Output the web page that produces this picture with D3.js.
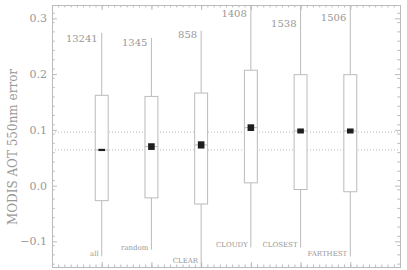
<!DOCTYPE html>
<html>
<head>
<meta charset="utf-8">
<script src="https://cdn.jsdelivr.net/npm/d3@7"></script>
<style>
  body { margin: 0; background: #fff; }
  text { font-family: "DejaVu Serif", serif; fill: #989898; }
</style>
</head>
<body>
<div id="chart"></div>
<script>
// values
const categories = ["all", "random", "CLEAR", "CLOUDY", "CLOSEST", "FARTHEST"];
const counts = [13241, 1345, 858, 1408, 1538, 1506];
const whiskerLow = [-0.127, -0.115, -0.16, -0.111, -0.111, -0.127];
const q1 = [-0.027, -0.022, -0.033, 0.005, -0.007, -0.011];
const median = [0.064, 0.070, 0.073, 0.104, 0.098, 0.098];
const q3 = [0.162, 0.160, 0.166, 0.207, 0.199, 0.199];
const whiskerHigh = [0.274, 0.265, 0.278, 0.34, 0.34, 0.34];
// half height of the black median marker (confidence of the median)
const medianCI = [0.002, 0.006, 0.0065, 0.006, 0.0045, 0.0045];
const countLabelY = [0.258, 0.250, 0.264, 0.303, 0.285, 0.296];
const refLines = [0.064, 0.096];
const yTicks = [-0.1, 0.0, 0.1, 0.2, 0.3];

const width = 407, height = 270;
const margin = {top: 5, right: 7, bottom: 3, left: 52};

const svg = d3.select("#chart").append("svg")
    .attr("width", width)
    .attr("height", height);

const x = d3.scaleLinear()
    .domain([0, 7])
    .range([margin.left, width - margin.right]);

const y = d3.scaleLinear()
    .domain([-0.146, 0.324])
    .range([height - margin.bottom, margin.top]);

const grey = "#bbbbbb";
const boxW = x(0.26) - x(0);

svg.append("clipPath").attr("id", "plotclip")
  .append("rect")
    .attr("x", x(0)).attr("y", y(0.324))
    .attr("width", x(7) - x(0)).attr("height", y(-0.146) - y(0.324));

const plot = svg.append("g").attr("clip-path", "url(#plotclip)");

// dotted reference lines
plot.selectAll(".ref")
  .data(refLines)
  .join("line")
    .attr("x1", x(0)).attr("x2", x(7))
    .attr("y1", d => y(d)).attr("y2", d => y(d))
    .attr("stroke", grey)
    .attr("stroke-width", 1)
    .attr("stroke-dasharray", "1,2");

const boxes = plot.selectAll(".box")
  .data(categories)
  .join("g")
    .attr("class", "box");

// whiskers
boxes.append("line")
    .attr("x1", (d, i) => x(i + 1)).attr("x2", (d, i) => x(i + 1))
    .attr("y1", (d, i) => y(whiskerHigh[i]))
    .attr("y2", (d, i) => y(q3[i]))
    .attr("stroke", grey);
boxes.append("line")
    .attr("x1", (d, i) => x(i + 1)).attr("x2", (d, i) => x(i + 1))
    .attr("y1", (d, i) => y(q1[i]))
    .attr("y2", (d, i) => y(whiskerLow[i]))
    .attr("stroke", grey);

boxes.append("rect")
    .attr("x", (d, i) => x(i + 1) - boxW / 2)
    .attr("y", (d, i) => y(q3[i]))
    .attr("width", boxW)
    .attr("height", (d, i) => y(q1[i]) - y(q3[i]))
    .attr("fill", "#fff")
    .attr("stroke", grey);

// median line across the box
boxes.append("line")
    .attr("x1", (d, i) => x(i + 1) - boxW / 2)
    .attr("x2", (d, i) => x(i + 1) + boxW / 2)
    .attr("y1", (d, i) => y(median[i]))
    .attr("y2", (d, i) => y(median[i]))
    .attr("stroke", grey);

// black median marker
boxes.append("rect")
    .attr("x", (d, i) => x(i + 1) - 3.3)
    .attr("y", (d, i) => y(median[i] + medianCI[i]))
    .attr("width", 6.6)
    .attr("height", (d, i) => y(median[i] - medianCI[i]) - y(median[i] + medianCI[i]))
    .attr("fill", "#1e1e1e");

// counts near the top of each whisker
svg.selectAll(".count")
  .data(counts)
  .join("text")
    .attr("class", "count")
    .attr("x", (d, i) => x(i + 1) - 4)
    .attr("y", (d, i) => y(countLabelY[i]))
    .attr("text-anchor", "end")
    .attr("font-size", "10px")
    .text(d => d);

// category names at the bottom of each whisker
const lowest = y.domain()[0] + 0.007;
svg.selectAll(".cat")
  .data(categories)
  .join("text")
    .attr("class", "cat")
    .attr("x", (d, i) => x(i + 1) - 3)
    .attr("y", (d, i) => y(Math.max(whiskerLow[i], lowest)))
    .attr("text-anchor", "end")
    .attr("font-size", "7px")
    .text(d => d);

// frame with inward ticks on all four sides
const minorY = d3.range(-0.14, 0.325, 0.1 / 6).filter(v => v > -0.146);
const minorX = d3.range(0, 7.001, 1 / 8);
const majorX = d3.range(0, 8);

function styleAxis(g) {
  g.select(".domain").attr("stroke", grey);
  g.selectAll(".tick line").attr("stroke", grey);
  g.selectAll(".tick text")
    .attr("font-family", "DejaVu Serif")
    .attr("fill", "#989898");
}

svg.append("g")
    .attr("transform", `translate(${x(0)},0)`)
    .call(d3.axisLeft(y).tickValues(yTicks).tickSize(-5).tickPadding(5)
      .tickFormat(d3.format(".1f")))
    .call(g => g.selectAll(".tick text").attr("font-size", "11px"))
    .call(styleAxis);
svg.append("g")
    .attr("transform", `translate(${x(0)},0)`)
    .call(d3.axisLeft(y).tickValues(minorY).tickSize(-2.7).tickFormat(""))
    .call(styleAxis);

svg.append("g")
    .attr("transform", `translate(${x(7)},0)`)
    .call(d3.axisRight(y).tickValues(yTicks).tickSize(-5).tickFormat(""))
    .call(styleAxis);
svg.append("g")
    .attr("transform", `translate(${x(7)},0)`)
    .call(d3.axisRight(y).tickValues(minorY).tickSize(-2.7).tickFormat(""))
    .call(styleAxis);

svg.append("g")
    .attr("transform", `translate(0,${y(0.324)})`)
    .call(d3.axisTop(x).tickValues(majorX).tickSize(-5).tickFormat(""))
    .call(styleAxis);
svg.append("g")
    .attr("transform", `translate(0,${y(0.324)})`)
    .call(d3.axisTop(x).tickValues(minorX).tickSize(-2.5).tickFormat(""))
    .call(styleAxis);

svg.append("g")
    .attr("transform", `translate(0,${y(-0.146)})`)
    .call(d3.axisBottom(x).tickValues(majorX).tickSize(-5).tickFormat(""))
    .call(styleAxis);
svg.append("g")
    .attr("transform", `translate(0,${y(-0.146)})`)
    .call(d3.axisBottom(x).tickValues(minorX).tickSize(-2.5).tickFormat(""))
    .call(styleAxis);

// y axis title
svg.append("text")
    .attr("transform", "translate(17,147) rotate(-90)")
    .attr("text-anchor", "middle")
    .attr("font-size", "12px")
    .text("MODIS AOT 550nm error");
</script>
</body>
</html>
